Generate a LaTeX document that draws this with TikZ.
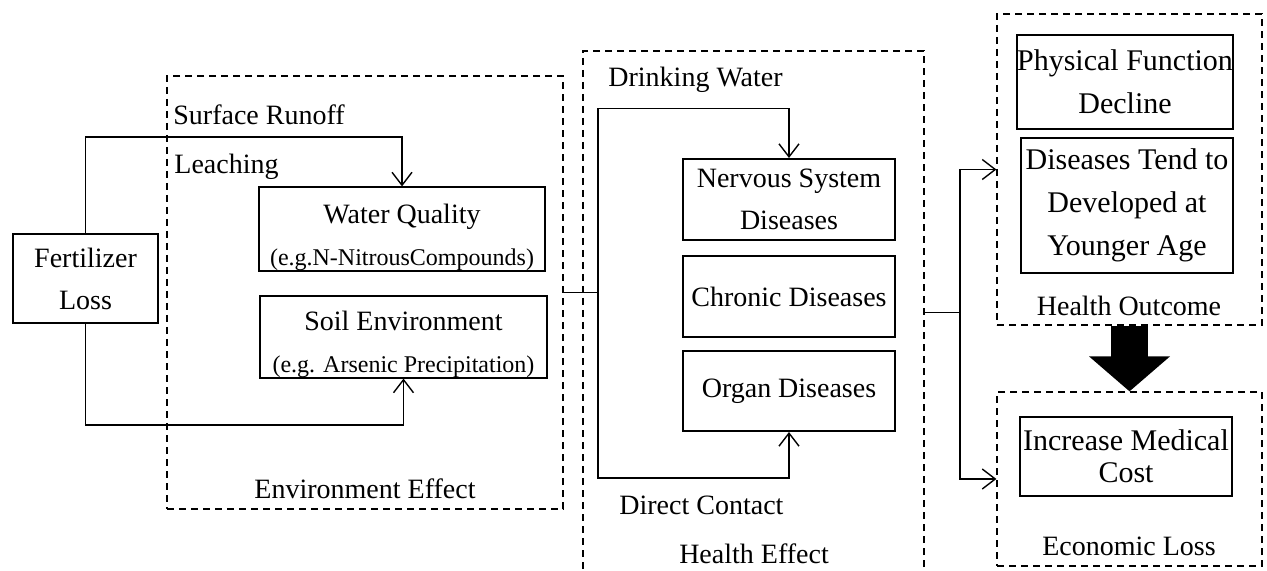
\documentclass[tikz,border=0pt]{standalone}
\usepackage{fontspec}
\setmainfont{Liberation Serif}
\usetikzlibrary{arrows.meta,positioning}
\newcommand{\egfont}{\fontsize{12}{14}\selectfont}

\begin{document}
\begin{tikzpicture}[x=0.5pt,y=-0.5pt,
  every node/.style={font=\fontsize{14}{21}\selectfont},
  grp/.style={draw, dash pattern=on 3.5pt off 2.5pt, line width=0.6pt, inner sep=0pt},
  box/.style={draw, line width=1pt, inner sep=0pt, align=center, minimum width=106pt},
  bigbox/.style={box, font=\fontsize{15}{21.5}\selectfont},
  lbl/.style={inner sep=0pt, anchor=west},
  link/.style={line width=0.7pt},
  arr/.style={link, -{Straight Barb[length=6.5pt,width=10pt]}},
  bigarr/.style={line width=18.5pt, -{Triangle[length=17.5pt,width=39.5pt]}}]
  \clip (0,0) rectangle (1267,571);
  % Groups
  \node[grp, minimum width=198pt, minimum height=216.5pt] (env) at (365,292.5) {};
  \node[grp, minimum width=170.5pt, minimum height=261.5pt] (health) at (753.5,312.5) {};
  \node[grp, minimum width=132.5pt, minimum height=155.5pt] (outcome) at (1129.5,169.5) {};
  \node[grp, minimum width=132.5pt, minimum height=87pt] (econ) at (1129.5,479) {};
  \node (envlbl) at (365,489) {Environment Effect};
  \node (heallbl) at (754,554) {Health Effect};
  \node (outlbl) at (1129,306) {Health Outcome};
  \node (econlbl) at (1129,546) {Economic Loss};
  % Source
  \node[box, minimum width=72.5pt, minimum height=44.5pt] (fert) at (85.5,278.5) {Fertilizer\\Loss};
  % Environment
  \node[box, minimum width=143pt, minimum height=40pt] (water) at (402,229) {\rule{0pt}{18pt}Water Quality\\{\egfont(e.g.N-NitrousCompounds)}};
  \node[box, minimum width=143.5pt, minimum height=40pt] (soil) at (403.5,337) {\rule{0pt}{17pt}Soil Environment\\{\egfont(e.g. Arsenic Precipitation)}};
  \node[lbl] (runoff) at (173,115) {Surface Runoff};
  \node[lbl] (leach) at (174,167) {Leaching};
  % Health effect
  \node[box, minimum height=40.5pt] (nerv) at (789,199.5) {Nervous System\\Diseases};
  \node[box, minimum height=40.5pt] (chron) at (789,296.5) {Chronic Diseases};
  \node[box, minimum height=40pt] (organ) at (789,391) {Organ Diseases};
  \node[lbl] (drink) at (608,80) {Drinking Water};
  \node[lbl] (contact) at (619,505) {Direct Contact};
  % Outcomes
  \node[bigbox, minimum height=47pt] (phys) at (1125,82) {Physical Function\\Decline};
  \node[bigbox, minimum height=67.5pt] (young) at (1127,205.5) {Diseases Tend to\\Developed at\\Younger Age};
  \node[bigbox, minimum height=39.5pt, font=\fontsize{15}{16}\selectfont] (cost) at (1126,456.5) {Increase Medical\\Cost};
  % Connections
  \coordinate (split1) at (598,292.5);
  \coordinate (split2) at (960,312.5);
  \draw[arr] (fert.north) -- ++(0,-96) -| (water.north);
  \draw[arr] (fert.south) -- ++(0,101) -| (soil.south);
  \draw[link] (env.east) -- (split1);
  \draw[arr] (split1) -- ++(0,-184) -| (nerv.north);
  \draw[arr] (split1) -- ++(0,185.5) -| (organ.south);
  \draw[link] (health.east) -- (split2);
  \draw[arr] (split2) |- (outcome.west);
  \draw[arr] (split2) |- (econ.west);
  \draw[bigarr] (outcome.south) -- (econ.north);
\end{tikzpicture}
\end{document}
